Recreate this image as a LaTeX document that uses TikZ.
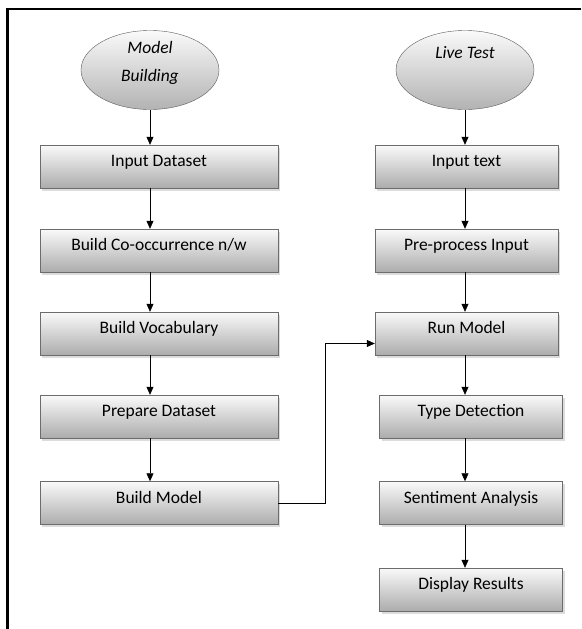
\documentclass[tikz,border=0pt]{standalone}
\usepackage{fontspec}
\setmainfont{Carlito}
\usetikzlibrary{arrows.meta,shadows,shapes.geometric,positioning}
\begin{document}
\begin{tikzpicture}[x=1pt,y=-1pt,
    procbox/.style={draw=gray!85!black,top color=gray!4,bottom color=gray!65,
      minimum height=43pt,inner sep=0pt,text height=12pt,text depth=12pt,
      font=\fontsize{17.5}{20}\selectfont,
      drop shadow={shadow xshift=2pt,shadow yshift=-2.5pt,fill=gray!55}},
    startell/.style={ellipse,draw=gray!70!black,top color=gray!4,bottom color=gray!60,
      minimum width=138pt,minimum height=79pt,inner sep=0pt},
    elltext/.style={font=\fontsize{17.5}{28}\selectfont\itshape,align=center},
    flow/.style={-{Triangle[length=8pt,width=7pt]},semithick}
  ]
  \useasboundingbox (0,0) rectangle (581,629);
  \draw[line width=2.5pt] (581,9) -- (7.5,9) -- (7.5,629);

  % start ellipses
  \node[startell,label={[elltext,yshift=7pt]center:Model\\Building}] (mb) at (150,70) {};
  \node[startell,label={[elltext,yshift=17pt]center:Live Test}] (lt) at (465,70) {};

  % model building column
  \foreach[count=\i] \t/\y in {Input Dataset/166.5,{Build Co-occurrence n/w}/250.5,
      Build Vocabulary/333.5,Prepare Dataset/416.5,Build Model/503} {
    \node[procbox,minimum width=238pt] (l\i) at (159,\y) {\t};
  }
  \draw[flow] (mb.south) -- (mb.south |- l1.north);
  \foreach \i [count=\j from 2] in {1,...,4} {
    \draw[flow] (l\i.south -| mb.south) -- (l\j.north -| mb.south);
  }

  % live test column
  \foreach[count=\i] \t/\x/\y in {Input text/466.5/166.5,Pre-process Input/466.5/250.5,
      Run Model/466.5/333.5,Type Detection/471/416.5,Sentiment Analysis/471/503,
      Display Results/471/589.5} {
    \node[procbox,minimum width=183pt] (r\i) at (\x,\y) {\t};
  }
  \draw[flow] (lt.south) -- (lt.south |- r1.north);
  \foreach \i [count=\j from 2] in {1,...,5} {
    \draw[flow] (r\i.south -| lt.south) -- (r\j.north -| lt.south);
  }

  \draw[flow] (l5.east) -- ++(47,0) |- ([yshift=-10pt]r3.west);
\end{tikzpicture}
\end{document}
